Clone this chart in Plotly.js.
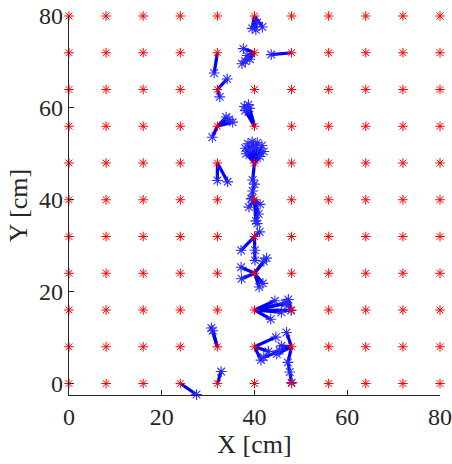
<!DOCTYPE html>
<html>
<head>
<meta charset="utf-8">
<script src="https://cdn.plot.ly/plotly-3.0.1.min.js"></script>
<style>html,body{margin:0;padding:0;background:#fff;}#chart{width:452px;height:464px;}</style>
</head>
<body>
<div id="chart"></div>
<script>
// Grid of initial positions (cm)
const gridX = [0, 8, 16, 24, 32, 40, 48, 56, 64, 72, 80];
const gridY = [0, 8, 16, 24, 32, 40, 48, 56, 64, 72, 80];

// Axis ticks
const xTicks = [0, 20, 40, 60, 80];
const yTicks = [0, 20, 40, 60, 80];

// Displacement fans: origin grid point + end points
const o01 = [40, 80], e01x = [39.5, 41.7, 40.6, 40.3], e01y = [77.3, 77.6, 78.6, 77.0];
const o02 = [40, 72], e02x = [37.6, 38.4, 37.3, 39.0, 38.0], e02y = [72.9, 71.4, 69.6, 70.6, 70.2];
const o03 = [48, 72], e03x = [43.6], e03y = [71.6];
const o04 = [32, 72], e04x = [31.3], e04y = [67.6];
const o05 = [32, 64], e05x = [34.1, 32.5], e05y = [66.3, 62.4];
const o06 = [40, 56], e06x = [37.8, 38.7, 38.0, 38.9], e06y = [60.3, 60.7, 59.4, 59.9];
const o07 = [32, 56], e07x = [30.9, 33.9, 35.3, 34.5], e07y = [53.6, 58.0, 56.9, 57.5];
const o08 = [32, 48], e08x = [32.0, 34.2], e08y = [44.2, 43.9];
const o09 = [40, 48], e09x = [38.0, 38.6, 39.5, 40.6, 41.6, 42.0, 41.2, 38.2, 39.2, 40.2], e09y = [51.2, 52.2, 52.6, 52.4, 51.8, 50.5, 49.4, 50.0, 50.8, 51.4];
const o10 = [40, 40], e10x = [41.2, 38.8, 40.3, 40.9, 39.3, 40.6], e10y = [39.0, 38.4, 35.4, 36.9, 40.2, 34.8];
const o11 = [40, 32], e11x = [37.1, 41.1], e11y = [29.0, 33.0];
const o12 = [40, 24], e12x = [37.1, 37.2, 42.6, 41.0, 41.8, 42.0], e12y = [25.3, 22.8, 27.3, 21.0, 21.8, 26.6];
const o13 = [40, 16], e13x = [44.4, 46.9, 47.9, 43.5, 45.8, 46.6], e13y = [18.0, 17.6, 15.9, 14.0, 15.5, 17.4];
const o14 = [48, 16], e14x = [46.9, 47.3], e14y = [17.6, 18.3];
const o15 = [40, 8], e15x = [44.6, 41.4, 43.0], e15y = [10.1, 5.1, 7.0];
const o16 = [48, 8], e16x = [44.8, 42.0, 45.8, 46.9, 45.4], e16y = [6.4, 5.7, 8.2, 11.1, 7.2];
const o17 = [32, 8], e17x = [30.7, 31.0], e17y = [12.1, 11.5];
const o18 = [32, 0], e18x = [32.8], e18y = [2.6];
const o19 = [24, 0], e19x = [27.5], e19y = [-2.4];

// Multi-step trajectories (first point = grid origin)
const p1x = [40, 39.6, 40.0, 39.6, 39.4], p1y = [48, 44.3, 43.4, 41.9, 40.3];
const p2x = [40, 40.1, 40.1], p2y = [32, 29.0, 26.8];
const p3x = [48, 47.2, 47.6, 48.0], p3y = [8, 4.6, 2.5, 0.2];

const fans = [
  [o01, e01x, e01y], [o02, e02x, e02y], [o03, e03x, e03y], [o04, e04x, e04y],
  [o05, e05x, e05y], [o06, e06x, e06y], [o07, e07x, e07y], [o08, e08x, e08y],
  [o09, e09x, e09y], [o10, e10x, e10y], [o11, e11x, e11y], [o12, e12x, e12y],
  [o13, e13x, e13y], [o14, e14x, e14y], [o15, e15x, e15y], [o16, e16x, e16y],
  [o17, e17x, e17y], [o18, e18x, e18y], [o19, e19x, e19y]
];
const paths = [[p1x, p1y], [p2x, p2y], [p3x, p3y]];

const lx = [], ly = [], mx = [], my = [];
fans.forEach(([o, ex, ey]) => {
  ex.forEach((v, i) => {
    lx.push(o[0], v, null); ly.push(o[1], ey[i], null);
    mx.push(v); my.push(ey[i]);
  });
});
paths.forEach(([px, py]) => {
  px.forEach((v, i) => { lx.push(v); ly.push(py[i]); if (i > 0) { mx.push(v); my.push(py[i]); } });
  lx.push(null); ly.push(null);
});

const rx = [], ry = [];
gridY.forEach(y => gridX.forEach(x => { rx.push(x); ry.push(y); }));

const traces = [
  { x: lx, y: ly, mode: 'lines', type: 'scatter', line: { color: '#0000ff', width: 3.2 },
    connectgaps: false, cliponaxis: false, hoverinfo: 'skip' },
  { x: mx, y: my, mode: 'markers', type: 'scatter', cliponaxis: false,
    marker: { symbol: 'asterisk-open', size: 9, color: '#2a2aff', line: { width: 1.1, color: '#2a2aff' } } },
  { x: rx, y: ry, mode: 'markers', type: 'scatter', cliponaxis: false,
    marker: { symbol: 'asterisk-open', size: 8, color: '#ff0000', line: { width: 1, color: '#ff0000' } } }
];

const tickFont = { family: 'Liberation Serif', size: 24, color: '#262626' };
const titleFont = { family: 'Liberation Serif', size: 26, color: '#262626' };
const layout = {
  width: 452, height: 464,
  margin: { l: 69, r: 12, t: 16, b: 69 },
  paper_bgcolor: '#fff', plot_bgcolor: '#fff',
  showlegend: false,
  font: tickFont,
  xaxis: {
    range: [0, 80], tickvals: xTicks, ticktext: xTicks.map(String),
    ticks: 'inside', ticklen: 5, tickwidth: 1, tickcolor: '#262626',
    showline: true, linecolor: '#262626', linewidth: 1.2, mirror: false,
    showgrid: false, zeroline: false, tickfont: tickFont, ticklabelstandoff: 0,
    title: { text: 'X [cm]', font: titleFont, standoff: 0 }
  },
  yaxis: {
    range: [-2.5, 80], tickvals: yTicks, ticktext: yTicks.map(String),
    ticks: 'inside', ticklen: 5, tickwidth: 1, tickcolor: '#262626',
    showline: true, linecolor: '#262626', linewidth: 1.2, mirror: false,
    showgrid: false, zeroline: false, tickfont: tickFont,
    title: { text: 'Y [cm]', font: titleFont, standoff: 4 }
  }
};
Plotly.newPlot('chart', traces, layout, { displayModeBar: false, staticPlot: true });
</script>
</body>
</html>
